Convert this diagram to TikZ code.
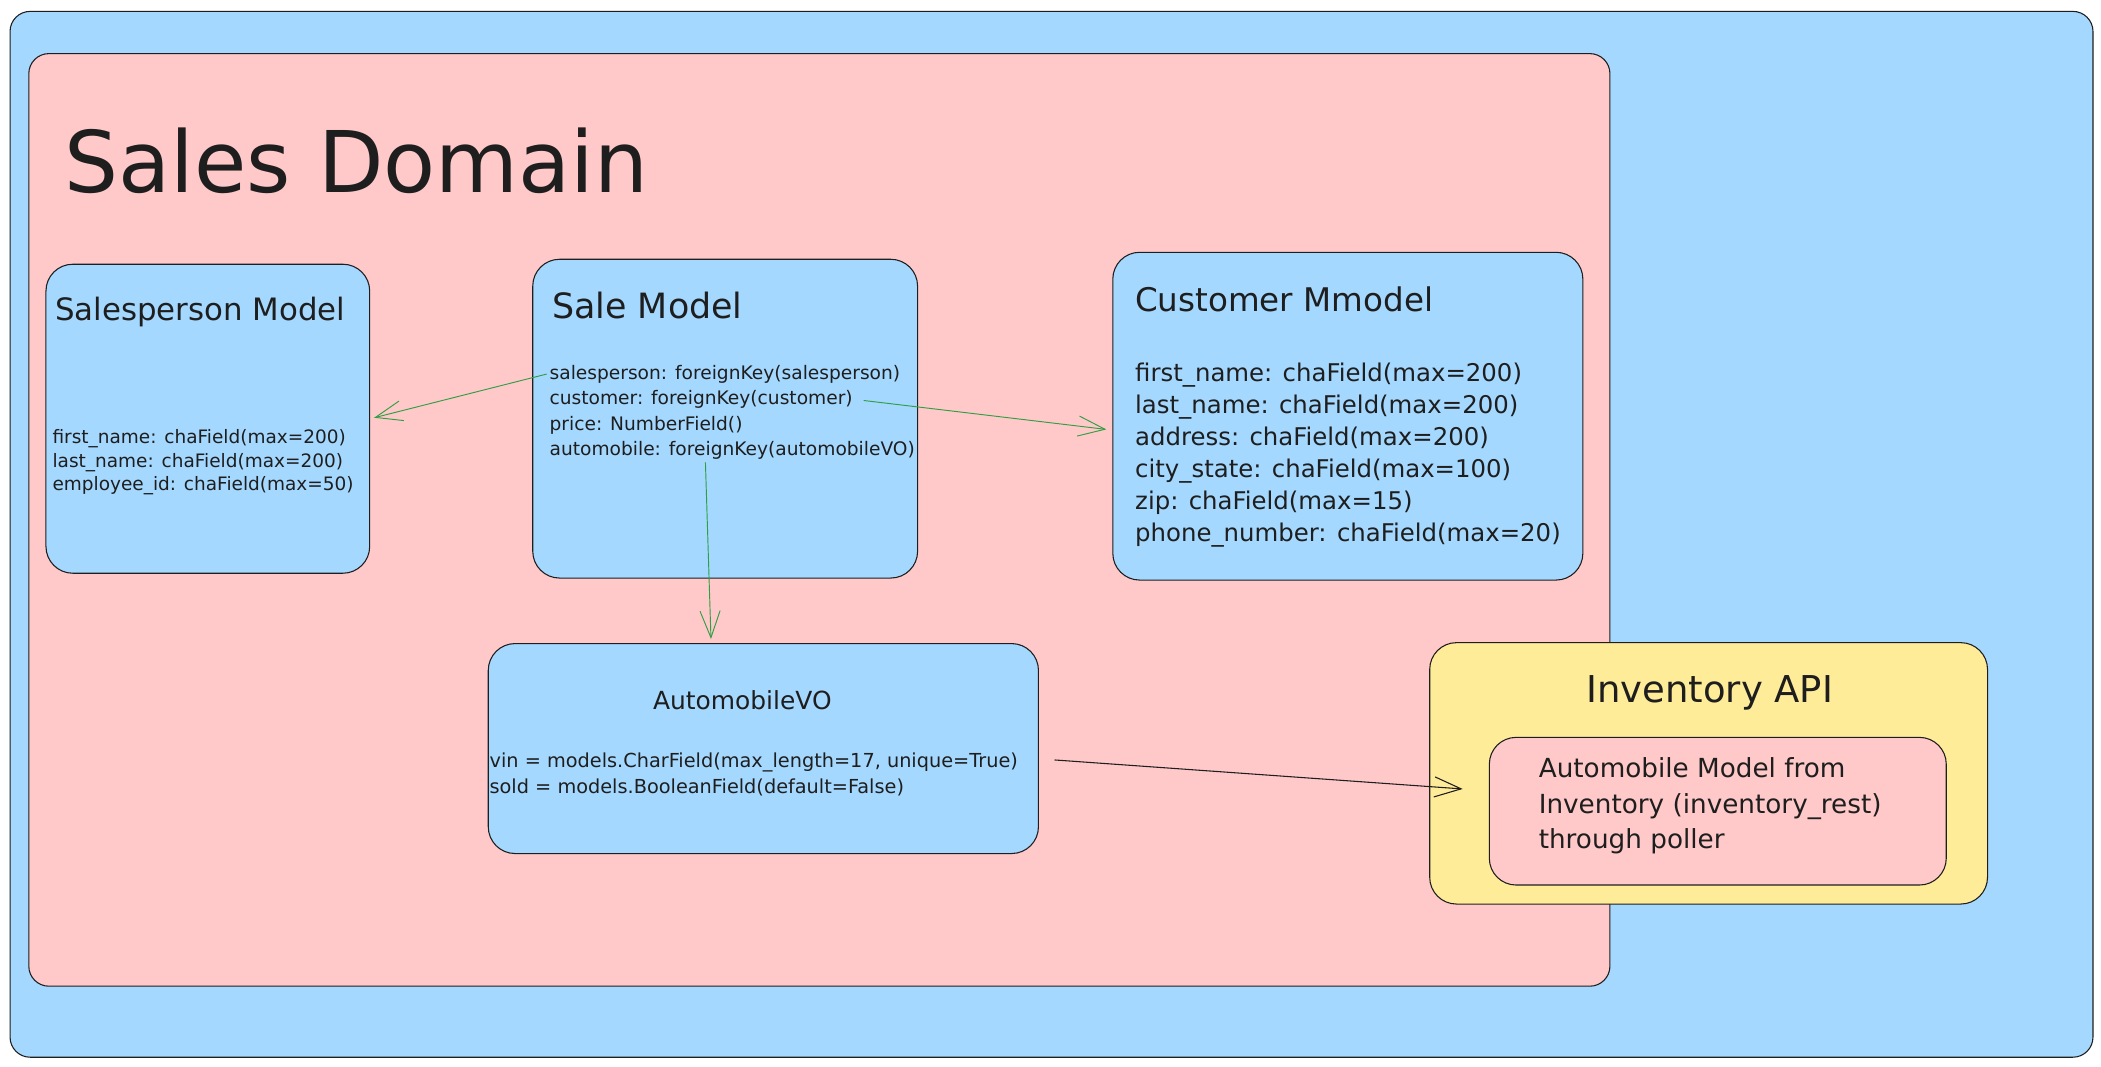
\documentclass[tikz,border=0pt]{standalone}
\usepackage{fontspec}
\setmainfont{DejaVu Sans}
\usetikzlibrary{arrows.meta}

\definecolor{skyfill}{HTML}{A5D8FF}
\definecolor{rosefill}{HTML}{FFC9C9}
\definecolor{sandfill}{HTML}{FFEC99}
\definecolor{inkline}{HTML}{1E1E1E}
\definecolor{linkgreen}{HTML}{2F9E44}

\begin{document}
\begin{tikzpicture}[x=1pt,y=-1pt,
 box/.style={draw=inkline,line width=0.8pt,rounded corners=#1,inner sep=0pt},
 box/.default=20pt,
 heading/.style={font=\fontsize{#1}{#1}\selectfont,text=inkline,inner sep=0pt},
 field/.style={font=\fontsize{#1}{#1}\selectfont,text=inkline,inner sep=2pt,anchor=base west},
 link/.style={draw=linkgreen,line width=0.7pt,-{Straight Barb[length=20pt,width=15pt]}}]
 \path[fill=white,use as bounding box] (0,0) rectangle (1568,795.6);

 \node[box=15pt,fill=skyfill,minimum width=1554.5pt,minimum height=780.5pt] (outer) at (784.75,398.75) {};
 \node[box=15pt,fill=rosefill,minimum width=1180pt,minimum height=696pt] (domain) at (611.5,388) {};
 \node[heading=63.5,anchor=base west] (domaintitle) at (48,144) {Sales Domain};

 \node[box,fill=skyfill,minimum width=241.6pt,minimum height=230.6pt] (spbox) at (155.1,312.5) {};
 \node[heading=23,anchor=base west] (sptitle) at (41,239) {Salesperson Model};
 \foreach \t [count=\i] in {first\_name: chaField(max=200),last\_name: chaField(max=200),employee\_id: chaField(max=50)}
  \node[field=13.8] (sp\i) at (37,{331+17.6*(\i-1)}) {\t};

 \node[box,fill=skyfill,minimum width=287.2pt,minimum height=237.9pt] (salebox) at (541.2,312.45) {};
 \node[heading=26,anchor=base west] (saletitle) at (412,237.5) {Sale Model};
 \foreach \t [count=\i] in {salesperson: foreignKey(salesperson),customer: foreignKey(customer),price: NumberField(),automobile: foreignKey(automobileVO)}
  \node[field=13.9] (sale\i) at (408,{283+19*(\i-1)}) {\t};

 \node[box,fill=skyfill,minimum width=350.8pt,minimum height=244.6pt] (custbox) at (1005.9,310.6) {};
 \node[heading=24.3,anchor=base west] (custtitle) at (847,232.6) {Customer Mmodel};
 \foreach \t [count=\i] in {first\_name: chaField(max=200),last\_name: chaField(max=200),address: chaField(max=200),city\_state: chaField(max=100),zip: chaField(max=15),phone\_number: chaField(max=20)}
  \node[field=18.2] (cust\i) at (845,{284.9+23.9*(\i-1)}) {\t};

 \node[box,fill=skyfill,minimum width=410.6pt,minimum height=156.7pt] (vobox) at (569.7,558.65) {};
 \node[heading=18.6,anchor=base] (votitle) at (554,529.7) {AutomobileVO};
 \foreach \t [count=\i] in {{vin = models.CharField(max\_length=17, unique=True)},sold = models.BooleanField(default=False)}
  \node[field=14.4] (vo\i) at (363.2,{572.7+19.5*(\i-1)}) {\t};

 \node[box,fill=sandfill,minimum width=416.3pt,minimum height=195.1pt] (invbox) at (1275.15,577.15) {};
 \node[heading=27.6,anchor=base] (invtitle) at (1276,524) {Inventory API};
 \node[box,fill=rosefill,minimum width=341pt,minimum height=110.2pt] (invinner) at (1282,605.4) {};
 \foreach \t [count=\i] in {Automobile Model from,Inventory (inventory\_rest),through poller}
  \node[field=19.6] (inv\i) at (1146.2,{580.3+26.6*(\i-1)}) {\t};

 \draw[link,shorten >=3pt] (sale1.west) -- (spbox.east);
 \draw[link,shorten <=6pt,shorten >=4.5pt] (sale2.east) -- ([yshift=-10.4pt]custbox.west);
 \draw[link,shorten >=3pt] ([xshift=-20pt]sale4.south) -- ([xshift=-39pt]vobox.north);
 \draw[draw=inkline,line width=0.8pt,-{Straight Barb[length=20pt,width=15pt]}] ([shift={(11.6pt,-8.5pt)}]vobox.east) -- ([shift={(-19.5pt,16.6pt)}]invinner.west);
\end{tikzpicture}
\end{document}
